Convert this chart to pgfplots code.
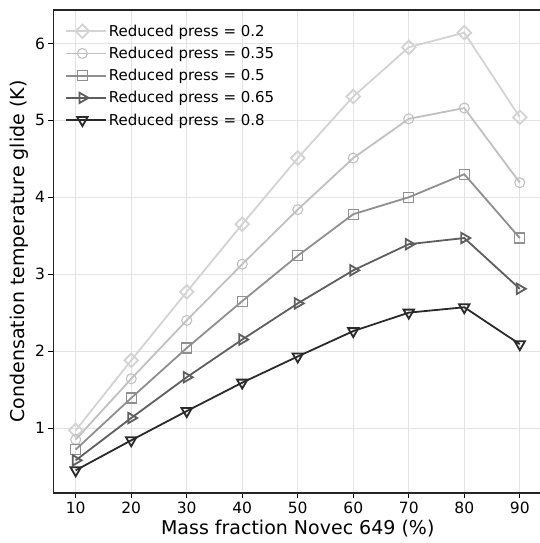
\documentclass[border=0pt]{standalone}
\usepackage{pgfplots}
\pgfplotsset{compat=1.18}
\usepackage{fontspec}
\setmainfont{DejaVu Sans}
\definecolor{cA}{HTML}{D3D3D3}
\definecolor{cB}{HTML}{C0C0C0}
\definecolor{cC}{HTML}{8F8F8F}
\definecolor{cD}{HTML}{5E5E5E}
\definecolor{cE}{HTML}{2A2A2A}
\definecolor{gridc}{HTML}{E3E3E3}
\begin{document}
\begin{tikzpicture}
\useasboundingbox (-53.5pt,-50pt) rectangle (486.5pt,493pt);
\begin{axis}[
  at={(0pt,0pt)}, anchor=south west,
  scale only axis,
  width=488.5pt, height=483pt,
  xmin=6, xmax=94, ymin=0.155, ymax=6.435,
  xtick={10,20,...,90},
  ytick={1,2,3,4,5,6},
  tick align=outside,
  major tick length=5pt,
  tick style={line width=1pt, black},
  xtick pos=bottom, ytick pos=left,
  axis line style={line width=1.5pt, black!85},
  grid=major,
  major grid style={line width=0.8pt, gridc},
  /pgf/number format/assume math mode=true,
  tick label style={font=\fontsize{15.5}{18}\selectfont},
  label style={font=\fontsize{19}{22}\selectfont},
  xlabel={Mass fraction Novec 649 (\%)},
  ylabel={Condensation temperature glide (K)},
  every axis plot/.append style={line width=1.8pt, mark options={solid, fill=white, line width=1.1pt}},
  legend style={at={(0.017,0.978)}, anchor=north west, draw=none, fill=none,
    font=\fontsize{15}{18}\selectfont, row sep=5.3pt, cells={anchor=west}},
  legend image code/.code={\path (0pt,0pt) -- (40pt,0pt);\draw[mark repeat=2,mark phase=2,line width=1.8pt,#1] plot coordinates {(0pt,0pt) (16.5pt,0pt) (33pt,0pt)};},
]
\addplot[color=cA, mark=square, mark size=4.8pt, mark options={rotate=45}] coordinates {
(10,0.97) (20,1.88) (30,2.77) (40,3.65) (50,4.51) (60,5.31) (70,5.95) (80,6.14) (90,5.04)};
\addlegendentry{Reduced press = 0.2}
\addplot[color=cB, mark=o, mark size=5pt] coordinates {
(10,0.85) (20,1.64) (30,2.40) (40,3.13) (50,3.84) (60,4.51) (70,5.02) (80,5.16) (90,4.19)};
\addlegendentry{Reduced press = 0.35}
\addplot[color=cC, mark=square, mark size=5pt] coordinates {
(10,0.72) (20,1.39) (30,2.04) (40,2.65) (50,3.24) (60,3.78) (70,4.00) (80,4.30) (90,3.47)};
\addlegendentry{Reduced press = 0.5}
\addplot[color=cD, mark=triangle, mark size=6pt, mark options={rotate=-90}] coordinates {
(10,0.58) (20,1.13) (30,1.66) (40,2.15) (50,2.62) (60,3.05) (70,3.39) (80,3.47) (90,2.81)};
\addlegendentry{Reduced press = 0.65}
\addplot[color=cE, mark=triangle, mark size=6pt, mark options={rotate=180}] coordinates {
(10,0.45) (20,0.84) (30,1.22) (40,1.59) (50,1.93) (60,2.26) (70,2.50) (80,2.57) (90,2.09)};
\addlegendentry{Reduced press = 0.8}
\end{axis}
\end{tikzpicture}
\end{document}
